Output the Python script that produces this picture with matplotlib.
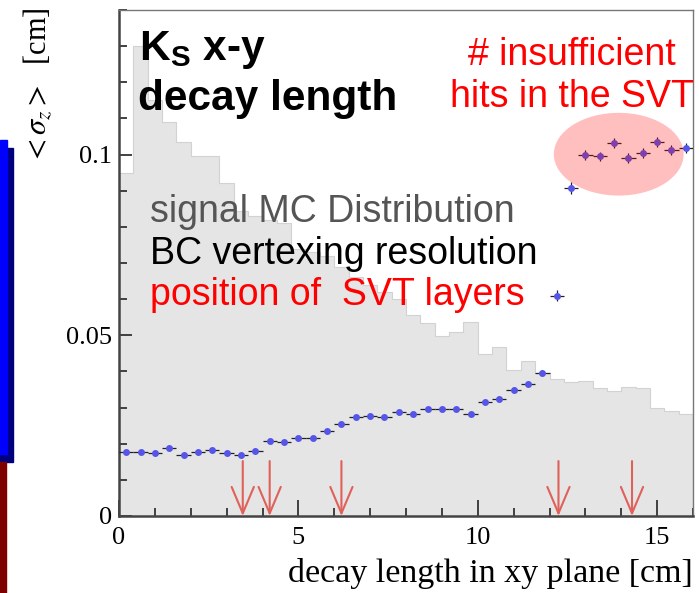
import numpy as np
import matplotlib
matplotlib.use('Agg')
import matplotlib.pyplot as plt
from matplotlib.patches import Ellipse, Rectangle
from matplotlib.ticker import MultipleLocator, FuncFormatter

plt.rcParams['mathtext.fontset'] = 'custom'
plt.rcParams['mathtext.bf'] = 'Liberation Sans:bold'
plt.rcParams['mathtext.rm'] = 'Liberation Sans'

# histogram binning: 40 bins of 0.4 cm
bin_edges = np.linspace(0, 16, 41)
bin_centers = 0.5 * (bin_edges[:-1] + bin_edges[1:])

# signal MC decay length distribution (arbitrary scale)
mc_counts = [0.095, 0.130, 0.115, 0.109, 0.1035, 0.0995, 0.0997, 0.092, 0.0845, 0.083,
             0.082, 0.081, 0.074, 0.073, 0.072, 0.069, 0.066, 0.064, 0.062, 0.060,
             0.0555, 0.0533, 0.0497, 0.0508, 0.0536, 0.0447, 0.0467, 0.0405, 0.0429, 0.0395,
             0.0378, 0.0371, 0.0374, 0.0353, 0.0346, 0.0356, 0.0355, 0.0298, 0.0291, 0.0282]

# mean sigma_z per bin from BC vertexing
sigma_z = [0.0176, 0.0176, 0.0174, 0.0189, 0.0168, 0.0176, 0.0182, 0.0175, 0.0168, 0.0180,
           0.0207, 0.0205, 0.0216, 0.0216, 0.0235, 0.0255, 0.0273, 0.0277, 0.0274, 0.0288,
           0.0282, 0.0296, 0.0296, 0.0296, 0.0281, 0.0315, 0.0324, 0.0349, 0.0366, 0.0395,
           0.0610, 0.0908, 0.0999, 0.0995, 0.1031, 0.0991, 0.1004, 0.1035, 0.1013, 0.1018]
sigma_z_err = [0.0002, 0.0002, 0.0002, 0.0002, 0.0002, 0.0002, 0.0002, 0.0002, 0.0002, 0.0002,
               0.0002, 0.0002, 0.0002, 0.0002, 0.0002, 0.0002, 0.0002, 0.0002, 0.0002, 0.0002,
               0.0002, 0.0002, 0.0002, 0.0002, 0.0002, 0.0006, 0.0006, 0.0007, 0.0008, 0.0009,
               0.0015, 0.0016, 0.0014, 0.0013, 0.0014, 0.0013, 0.0013, 0.0014, 0.0013, 0.0013]

# radii of the SVT layers
svt_layers = [3.45, 4.2, 6.2, 12.25, 14.3]

fig = plt.figure(figsize=(6.99, 5.93), dpi=100)

# coloured bars at the left edge of the slide
fig.add_artist(Rectangle((0, 1 - 462/593), 13/699, (462 - 148)/593,
                         transform=fig.transFigure, color='#00007f', zorder=0))
fig.add_artist(Rectangle((0, 1 - 454/593), 7/699, (454 - 140)/593,
                         transform=fig.transFigure, color='#0000ff', zorder=1))
fig.add_artist(Rectangle((0, 0), 6/699, 1 - 462/593,
                         transform=fig.transFigure, color='#7f0000', zorder=0))

ax = fig.add_axes([119/699, 1 - 516/593, 574/699, 506/593])

ax.stairs(mc_counts, bin_edges, fill=True, color='#e5e5e5', zorder=1)
ax.stairs(mc_counts, bin_edges, color='#d2d2d2', lw=0.8, zorder=1)

ax.errorbar(bin_centers, sigma_z, xerr=0.2, yerr=sigma_z_err, fmt='none',
            ecolor='#222222', elinewidth=0.9, zorder=3)
ax.plot(bin_centers, sigma_z, 'o', color='#5555e8', ms=5, mec='none', zorder=4)

for x in svt_layers:
    ax.annotate('', xy=(x, 0), xytext=(x, 0.0152),
                arrowprops=dict(arrowstyle='->,head_length=1.9,head_width=0.8',
                                color='#e0605a', lw=1.5, shrinkA=0, shrinkB=0),
                zorder=5)

ax.add_patch(Ellipse((13.93, 0.1001), 3.62, 0.0229, facecolor='red', alpha=0.25,
                     edgecolor='none', zorder=6))

ax.set_xlim(0, 16)
ax.set_ylim(0, 0.14)
ax.xaxis.set_major_locator(MultipleLocator(5))
ax.xaxis.set_minor_locator(MultipleLocator(1))
ax.yaxis.set_major_locator(MultipleLocator(0.05))
ax.yaxis.set_minor_locator(MultipleLocator(0.01))
ax.yaxis.set_major_formatter(FuncFormatter(lambda v, p: '%g' % round(v, 3)))
ax.tick_params(which='both', direction='in', color='#333333', width=1.3,
               labelsize=19, labelfontfamily='Liberation Serif')
ax.tick_params(axis='x', which='major', length=11.5, pad=8)
ax.tick_params(axis='x', which='minor', length=5.5)
ax.tick_params(axis='y', which='major', length=9, pad=5)
ax.tick_params(axis='y', which='minor', length=6)

for side in ['left', 'bottom']:
    ax.spines[side].set_color('#444444')
    ax.spines[side].set_linewidth(1.8)
for side in ['top', 'right']:
    ax.spines[side].set_color('#777777')
    ax.spines[side].set_linewidth(1.0)

ax.text(0.035, 0.901, r'$\mathbf{K_S}$ x-y', transform=ax.transAxes, fontsize=30.5,
        fontweight='bold', family='Liberation Sans', va='baseline', zorder=7)
ax.text(0.033, 0.802, 'decay length', transform=ax.transAxes, fontsize=30.5,
        fontweight='bold', family='Liberation Sans', va='baseline', zorder=7)

ax.text(0.054, 0.581, 'signal MC Distribution', transform=ax.transAxes, fontsize=27,
        family='Liberation Sans', color='#555555', va='baseline', zorder=7)
ax.text(0.054, 0.498, 'BC vertexing resolution', transform=ax.transAxes, fontsize=27,
        family='Liberation Sans', color='black', va='baseline', zorder=7)
ax.text(0.054, 0.417, 'position of  SVT layers', transform=ax.transAxes, fontsize=27,
        family='Liberation Sans', color='red', va='baseline', zorder=7)

ax.text(0.789, 0.891, '# insufficient', transform=ax.transAxes, fontsize=27,
        family='Liberation Sans', color='red', ha='center', va='baseline', zorder=7)
ax.text(0.789, 0.809, 'hits in the SVT', transform=ax.transAxes, fontsize=27,
        family='Liberation Sans', color='red', ha='center', va='baseline', zorder=7)

fig.text(693/699, 1 - 582/593, 'decay length in xy plane [cm]', fontsize=24.5,
         family='Liberation Serif', ha='right', va='baseline')
fig.text(38/699, 1 - 7/593, r'$<\sigma_z>$  [cm]', fontsize=22, rotation=90,
         family='Liberation Serif', math_fontfamily='stix', ha='center', va='top')

fig.savefig('out.png', dpi=100)
